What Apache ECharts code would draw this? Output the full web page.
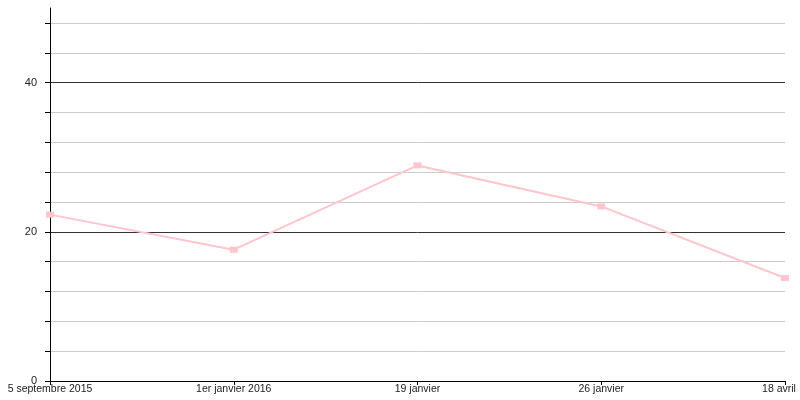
<!DOCTYPE html>
<html><head><meta charset="utf-8">
<script src="https://cdn.jsdelivr.net/npm/echarts@6/dist/echarts.min.js"></script>
<style>html,body{margin:0;padding:0;background:#fff}#c{width:800px;height:400px}</style>
</head><body><div id="c"></div>
<script>
const categories = ["5 septembre 2015", "1er janvier 2016", "19 janvier", "26 janvier", "18 avril"];
const values = [22.3, 17.6, 28.9, 23.4, 13.8];
const yLabelValues = [0, 20, 40];

const gridColors = [];
for (let i = 0; i < 14; i++) {
  gridColors.push(i === 5 || i === 10 ? '#333333' : (i === 13 ? 'rgba(0,0,0,0)' : '#cccccc'));
}

const chart = echarts.init(document.getElementById('c'), null, {renderer: 'canvas'});
chart.setOption({
  animation: false,
  grid: {left: 50, right: 15, top: 8, bottom: 19, containLabel: false, outerBoundsMode: 'none'},
  xAxis: {
    type: 'category',
    data: categories,
    boundaryGap: false,
    axisLine: {lineStyle: {color: '#000', width: 1}},
    axisTick: {show: true, length: 4, alignWithLabel: true, lineStyle: {color: '#000'}},
    axisLabel: {
      color: '#222', fontFamily: 'Liberation Sans, Arial, sans-serif', fontSize: 10.5, margin: 3, interval: 0,
      formatter: (v, i) => i === categories.length - 1 ? '{last|' + v + '}' : v,
      rich: {last: {color: '#222', fontFamily: 'Liberation Sans, Arial, sans-serif', fontSize: 10.5, padding: [0, 12, 0, 0]}}
    },
    splitLine: {show: false}
  },
  yAxis: {
    type: 'value',
    min: 0, max: 50, interval: 4,
    axisLine: {show: true, lineStyle: {color: '#000', width: 1}},
    axisTick: {show: true, length: 5, lineStyle: {color: '#000'}},
    axisLabel: {
      color: '#222', fontFamily: 'Liberation Sans, Arial, sans-serif', fontSize: 11, margin: 13,
      showMaxLabel: false,
      formatter: v => yLabelValues.indexOf(v) >= 0 ? String(v) : ''
    },
    splitLine: {show: true, showMaxLine: false, lineStyle: {color: gridColors, width: 1}}
  },
  series: [{
    type: 'line',
    data: values,
    symbol: 'rect',
    symbolSize: [8, 6],
    itemStyle: {color: '#ffc4cc'},
    lineStyle: {color: '#ffc4cc', width: 2}
  }]
});
</script></body></html>
